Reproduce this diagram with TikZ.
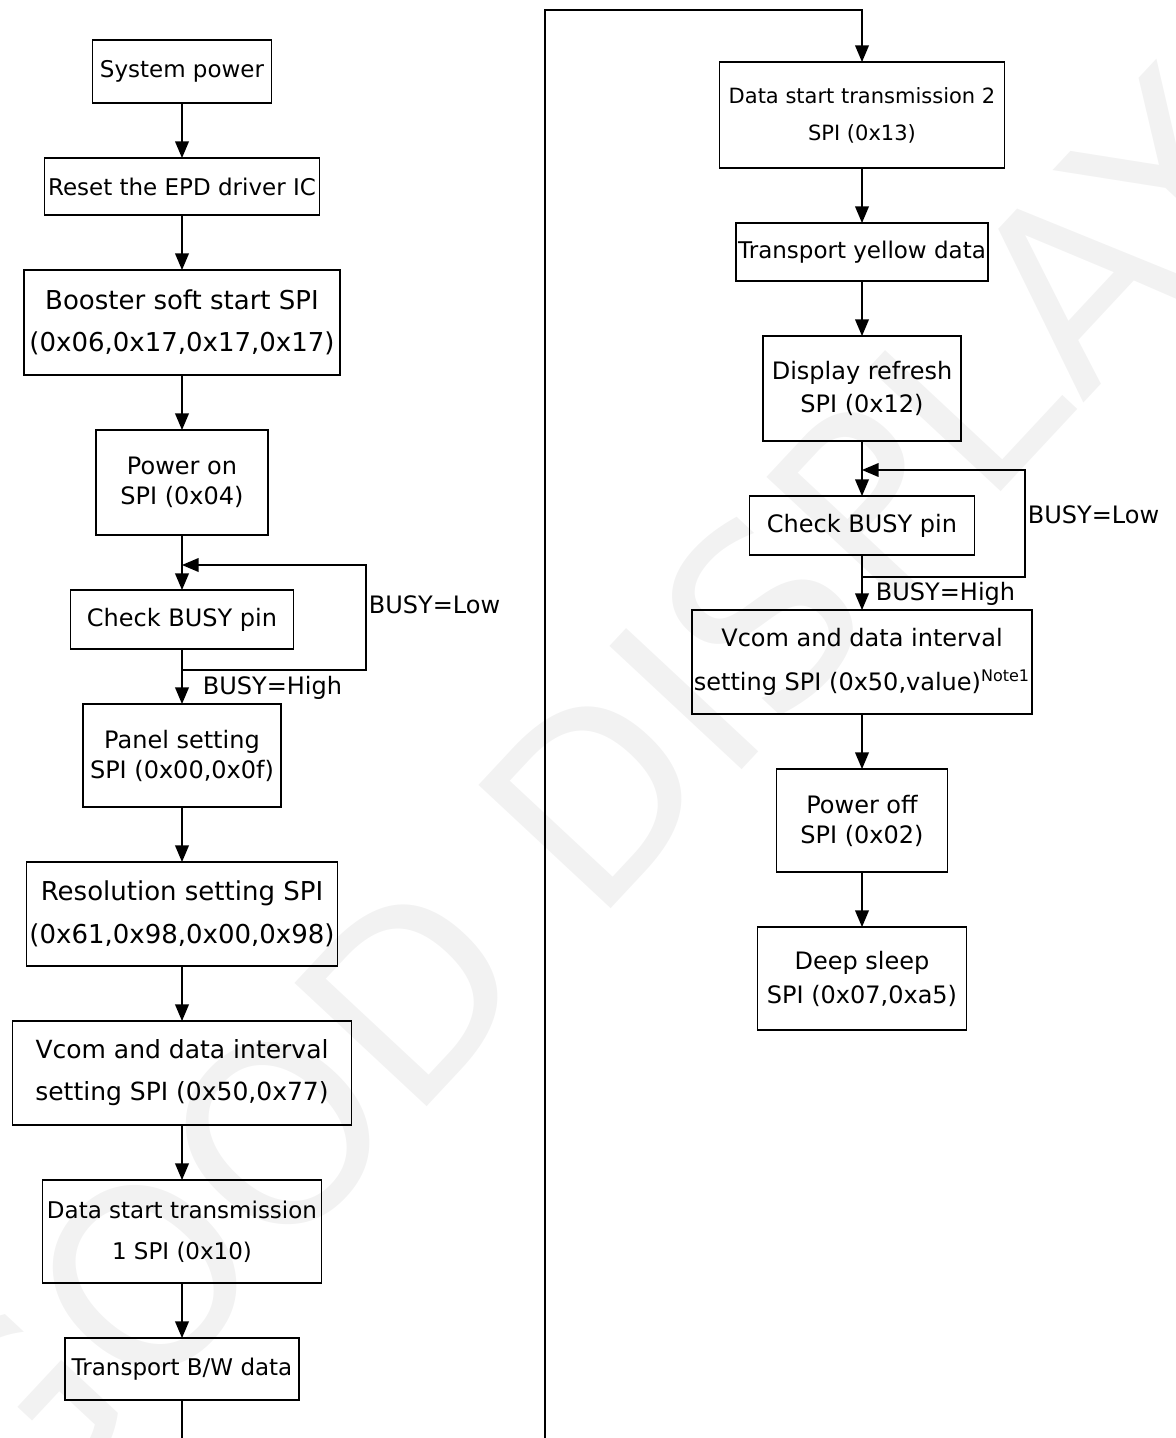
\documentclass[tikz,border=0pt]{standalone}
\usepackage{fontspec}
\setmainfont{DejaVu Sans}
\usetikzlibrary{arrows,positioning}
\tikzstyle{stage}=[
	rectangle,
	draw=black,
	line width=0.9pt,
	inner sep=1pt,
	outer sep=0pt,
	align=center,
	font=\fontsize{12}{15}\selectfont,
	node distance=27.5pt
]
\tikzstyle{narrow}=[
	font=\fontsize{11.5}{14}\selectfont
]
\tikzstyle{wide}=[
	font=\fontsize{13}{15}\selectfont
]
\tikzstyle{flow}=[
	->,
	>=triangle 45,
	line width=0.9pt
]
\tikzstyle{busy}=[
	inner sep=1pt,
	font=\fontsize{12}{14}\selectfont
]

\begin{document}
\begin{tikzpicture}[x=0.5pt,y=-0.5pt]
\useasboundingbox (0,0) rectangle (1175,1438);
\node [text=black!5, font=\fontsize{124}{124}\selectfont, rotate=47] (watermark) at (585,805) {GOOD DISPLAY};

% left column
\node [stage, narrow, minimum width=89.5pt, minimum height=31.5pt] (power) at (182,71.5) {System power};
\node [stage, narrow, minimum width=137.5pt, minimum height=28.5pt] (reset) [below=of power] {Reset the EPD driver IC};
\node [stage, wide, minimum width=158pt, minimum height=52.5pt] (booster) [below=of reset] {Booster soft start SPI\\[6pt](0x06,0x17,0x17,0x17)};
\node [stage, minimum width=86pt, minimum height=52.5pt] (poweron) [below=of booster] {Power on\\SPI (0x04)};
\node [stage, minimum width=111.5pt, minimum height=29.5pt] (checkL) [below=of poweron] {Check BUSY pin};
\node [stage, minimum width=99pt, minimum height=51.5pt] (panel) [below=of checkL] {Panel setting\\SPI (0x00,0x0f)};
\node [stage, wide, minimum width=155.5pt, minimum height=52pt] (resolution) [below=of panel] {Resolution setting SPI\\[6.5pt](0x61,0x98,0x00,0x98)};
\node [stage, font=\fontsize{12.5}{15}\selectfont, minimum width=169.5pt, minimum height=52pt] (vcomL) [below=of resolution] {Vcom and data interval\\[6pt]setting SPI (0x50,0x77)};
\node [stage, narrow, minimum width=139.5pt, minimum height=51.5pt] (dst1) [below=of vcomL] {Data start transmission\\[6.5pt]1 SPI (0x10)};
\node [stage, narrow, minimum width=117pt, minimum height=31pt] (bw) [below=of dst1] {Transport B/W data};

\draw [flow] (power) -- (reset);
\draw [flow] (reset) -- (booster);
\draw [flow] (booster) -- (poweron);
\draw [flow] (poweron) -- (checkL);
\draw [flow] (checkL) -- node [busy, pos=0.7, right=9pt] {BUSY=High} (panel);
\coordinate (busyL) at ([yshift=-10.5pt]checkL.south);
\coordinate (backL) at ([yshift=12.5pt]checkL.north);
\draw [flow] (busyL) -- ++(184,0) |- node [busy, pos=0.31, right] {BUSY=Low} (backL);
\draw [flow] (panel) -- (resolution);
\draw [flow] (resolution) -- (vcomL);
\draw [flow] (vcomL) -- (dst1);
\draw [flow] (dst1) -- (bw);

% right column
\node [stage, font=\fontsize{10.5}{13}\selectfont, minimum width=142.5pt, minimum height=53pt] (dst2) at (862,115) {Data start transmission 2\\[5.5pt]SPI (0x13)};
\node [stage, narrow, minimum width=125.5pt, minimum height=29pt] (yellow) [below=of dst2] {Transport yellow data};
\node [stage, minimum width=99pt, minimum height=52.5pt] (refresh) [below=of yellow] {Display refresh\\[1.5pt]SPI (0x12)};
\node [stage, minimum width=112.5pt, minimum height=29.5pt] (checkR) [below=of refresh] {Check BUSY pin};
\node [stage, minimum width=169pt, minimum height=52pt] (vcomR) [below=of checkR] {Vcom and data interval\\[7pt]setting SPI (0x50,value)\textsuperscript{Note1}};
\node [stage, minimum width=85.5pt, minimum height=51.5pt] (poweroff) [below=of vcomR] {Power off\\SPI (0x02)};
\node [stage, minimum width=104.5pt, minimum height=51.5pt] (sleep) [below=of poweroff] {Deep sleep\\[2pt]SPI (0x07,0xa5)};

\draw [flow] (dst2) -- (yellow);
\draw [flow] (yellow) -- (refresh);
\draw [flow] (refresh) -- (checkR);
\draw [flow] (checkR) -- node [busy, pos=0.7, right=5.5pt] {BUSY=High} (vcomR);
\coordinate (busyR) at ([yshift=-11pt]checkR.south);
\coordinate (backR) at ([yshift=13pt]checkR.north);
\draw [flow] (busyR) -- ++(163,0) |- node [busy, pos=0.29, right] {BUSY=Low} (backR);
\draw [flow] (vcomR) -- (poweroff);
\draw [flow] (poweroff) -- (sleep);

% link between the columns
\coordinate (jump) at (545,1470);
\coordinate (turn) at (545,10);
\draw [flow] (bw.south) |- (jump) -- (turn) -| (dst2.north);
\end{tikzpicture}
\end{document}
